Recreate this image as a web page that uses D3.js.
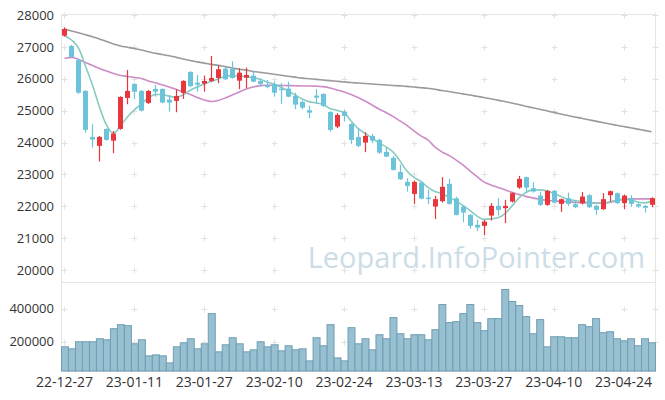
<!DOCTYPE html>
<html>
<head>
<meta charset="utf-8">
<script src="https://cdn.jsdelivr.net/npm/d3@7"></script>
<style>
  body { margin: 0; background: #fff; }
  svg { display: block; font-family: "Open Sans", "Noto Sans", sans-serif; }
</style>
</head>
<body>
<svg id="chart" width="665" height="400"></svg>
<script>
const dates = [
  "22-12-27","22-12-28","22-12-29","23-01-02","23-01-03","23-01-04","23-01-05","23-01-06","23-01-09","23-01-10",
  "23-01-11","23-01-12","23-01-13","23-01-16","23-01-17","23-01-18","23-01-19","23-01-20","23-01-25","23-01-26",
  "23-01-27","23-01-30","23-01-31","23-02-01","23-02-02","23-02-03","23-02-06","23-02-07","23-02-08","23-02-09",
  "23-02-10","23-02-13","23-02-14","23-02-15","23-02-16","23-02-17","23-02-20","23-02-21","23-02-22","23-02-23",
  "23-02-24","23-02-27","23-02-28","23-03-02","23-03-03","23-03-06","23-03-07","23-03-08","23-03-09","23-03-10",
  "23-03-13","23-03-14","23-03-15","23-03-16","23-03-17","23-03-20","23-03-21","23-03-22","23-03-23","23-03-24",
  "23-03-27","23-03-28","23-03-29","23-03-30","23-03-31","23-04-03","23-04-04","23-04-05","23-04-06","23-04-07",
  "23-04-10","23-04-11","23-04-12","23-04-13","23-04-14","23-04-17","23-04-18","23-04-19","23-04-20","23-04-21",
  "23-04-24","23-04-25","23-04-26","23-04-27","23-04-28"
]

const open = [
  27351,27028,26580,25617,24175,23893,24426,24059,24426,25398,
  25837,25617,25241,25680,25680,25345,25304,25555,26213,25878,
  25846,25931,26025,26317,26317,25940,26034,26097,25931,25800,
  25837,25690,25690,25461,25273,25012,25470,25523,24959,24498,
  24959,24583,24175,23997,24207,24081,23705,23517,23078,22764,
  22388,22743,22272,21990,22159,22701,22250,21990,21730,21417,
  21385,21708,22012,21940,22147,22586,22912,22567,22335,22044,
  22482,22075,22253,22065,22097,22347,22012,21909,22347,22410,
  22097,22253,22065,22012,22044
]
const close = [
  27561,26683,25564,24395,24091,24175,24081,24279,25429,25617,
  25595,24999,25617,25595,25251,25251,25461,25931,25765,25815,
  25931,26025,26298,25984,26025,26191,26119,25909,25837,25740,
  25564,25658,25439,25188,25094,24937,25407,25147,24395,24865,
  24834,24081,23893,24207,24059,23683,23558,23141,22849,22639,
  22764,22241,22241,22222,22608,22075,21730,21802,21385,21332,
  21520,22012,21887,22012,22410,22859,22586,22461,22044,22482,
  22116,22222,22075,21971,22304,21971,21887,22222,22472,22097,
  22335,22075,21990,21950,22253
]
const high = [
  27614,27060,26630,25649,24573,24207,24440,24363,25450,26276,
  25860,25650,25650,25806,25700,25492,25671,25953,26240,26119,
  26097,26715,26423,26350,26548,26330,26348,26254,26015,25960,
  25909,25859,25909,25564,25313,25157,25671,25540,24980,24918,
  25022,24605,24448,24323,24270,24122,23852,23580,23307,22881,
  22805,22790,22514,22326,22912,22859,22300,22022,21750,21573,
  21573,22097,22253,22200,22430,22953,22930,22755,22461,22513,
  22513,22241,22429,22200,22451,22380,22044,22410,22492,22430,
  22367,22347,22100,22044,22284
]
const low = [
  27320,26660,25523,24310,23840,23401,24060,23664,24400,25200,
  25357,24970,25210,25439,25230,24968,24950,25367,25740,25595,
  25595,25900,25859,25960,26003,25671,25702,25890,25752,25700,
  25439,25210,25420,25044,25044,24762,25232,25120,24341,24448,
  24655,23956,23853,23696,23978,23642,23539,23120,22827,22460,
  22075,22220,22075,21595,22116,22044,21710,21500,21300,21219,
  21094,21551,21708,21470,22116,22545,22410,22430,22012,22012,
  22090,21824,22012,21940,22053,21940,21730,21887,22147,22075,
  21909,21982,21950,21802,21971
]
const volume = [
  169700,157600,200000,200000,200000,218200,212100,278800,303000,297000,
  187900,212100,115200,121200,115200,72700,169700,194000,218200,157600,
  187900,369700,139400,181800,224300,187900,139400,151500,200000,169700,
  181800,145500,175800,151500,157600,84900,224300,175800,303000,103000,
  84900,284900,187900,218200,151500,242400,218200,345500,248500,218200,
  242400,242400,212100,272700,424300,315200,321200,369700,424300,315200,
  266700,339400,339400,515200,442500,418200,351500,248500,333400,169700,
  230300,230300,224300,224300,303000,290900,339400,254600,260600,218200,
  206100,218200,175800,218200,194000
]

// moving averages
const ma5 = [
  27357,27216,26965,26401,25805,25116,24551,24285,24520,24802,
  25022,25210,25398,25508,25508,25451,25420,25501,25639,25743,
  25837,25915,25994,26072,26097,26088,26063,26031,25984,25900,
  25821,25733,25617,25492,25367,25282,25241,25194,25069,25006,
  24943,24677,24442,24285,24144,23987,23862,23705,23423,23109,
  22906,22780,22592,22460,22404,22279,22169,22028,21871,21699,
  21589,21605,21636,21761,21996,22254,22429,22514,22514,22482,
  22404,22310,22222,22178,22147,22122,22106,22106,22138,22185,
  22222,22200,22138,22106,22153
]
const ma20 = [
  26643,26668,26605,26511,26417,26323,26244,26166,26103,26072,
  26041,26009,25931,25874,25805,25743,25664,25586,25508,25414,
  25335,25288,25320,25398,25492,25586,25680,25743,25784,25796,
  25796,25790,25784,25780,25774,25774,25768,25752,25711,25649,
  25586,25508,25414,25304,25178,25053,24943,24818,24677,24536,
  24363,24207,24081,23862,23705,23595,23454,23297,23109,22937,
  22765,22670,22592,22514,22435,22373,22310,22263,22216,22185,
  22169,22153,22138,22122,22106,22106,22097,22097,22122,22169,
  22216,22232,22232,22232,22232
]
const ma60 = [
  27561,27500,27440,27380,27320,27250,27170,27090,27030,26990,
  26950,26900,26850,26800,26760,26720,26670,26620,26570,26530,
  26490,26450,26420,26380,26340,26300,26270,26230,26200,26170,
  26140,26110,26080,26050,26020,26000,25980,25960,25940,25920,
  25900,25880,25865,25850,25835,25820,25805,25790,25775,25760,
  25740,25720,25700,25670,25630,25600,25560,25525,25490,25450,
  25410,25370,25330,25285,25240,25190,25140,25090,25045,24995,
  24945,24895,24845,24800,24760,24715,24670,24625,24580,24540,
  24500,24460,24420,24380,24340
]

const priceTicks = [20000, 21000, 22000, 23000, 24000, 25000, 26000, 27000, 28000]
const volTicks = [200000, 400000]
const dateTicks = dates.filter((d, i) => i % 10 == 0)

var svg = d3.select("#chart")
var left = 61, right = 655
var priceTop = 14, priceBottom = 282, volBottom = 371

var x = d3.scaleBand().domain(dates).range([left, right])
var cx = d => x(d) + x.bandwidth() / 2

var y = d3.scaleLinear().domain([20000, 28000]).range([270, 15])
var yv = d3.scaleLinear().domain([24000, 560000]).range([volBottom, priceBottom])

// frame lines
svg.append("g")
  .attr("stroke", "#e6e6e6")
  .attr("stroke-width", 1)
  .selectAll("line")
  .data([
    [left, priceTop, right, priceTop],
    [left, priceBottom, right, priceBottom],
    [left, volBottom, right, volBottom],
    [left, priceTop, left, volBottom],
    [right, priceTop, right, volBottom]
  ])
  .enter()
  .append("line")
  .attr("x1", d => d[0] + 0.5).attr("y1", d => d[1] + 0.5)
  .attr("x2", d => d[2] + 0.5).attr("y2", d => d[3] + 0.5)

// little "+" grid marks
var crossY = priceTicks.map(v => y(v)).concat(volTicks.map(v => yv(v)))
var crossX = dateTicks.map(cx).concat([right])
var crosses = []
crossX.forEach(a => crossY.forEach(b => crosses.push([a, b])))
var cross = svg.append("g").attr("stroke", "#e2e2e2").attr("stroke-width", 1)
cross.selectAll("path")
  .data(crosses)
  .enter()
  .append("path")
  .attr("d", d => {
    var px = Math.round(d[0]) + 0.5, py = Math.round(d[1]) + 0.5
    return "M" + (px - 3) + "," + py + "H" + (px + 3) + "M" + px + "," + (py - 3) + "V" + (py + 3)
  })

// watermark
svg.append("text")
  .attr("x", 645)
  .attr("y", 268)
  .attr("text-anchor", "end")
  .attr("fill", "#cbdde7")
  .style("font-size", "29px")
  .text("Leopard.InfoPointer.com")

// volume bars
svg.append("g")
  .selectAll("rect")
  .data(volume)
  .enter()
  .append("rect")
  .attr("x", (d, i) => x(dates[i]) + 0.5)
  .attr("y", d => yv(d))
  .attr("width", x.bandwidth())
  .attr("height", d => volBottom - yv(d))
  .attr("fill", "#98c0d0")
  .attr("stroke", "#6f9eb5")
  .attr("stroke-width", 1)

// moving average lines
var toLine = d3.line()
  .x((d, i) => cx(dates[i]))
  .y(d => y(d))
  .curve(d3.curveMonotoneX)

var maLines = [
  { values: ma60, color: "#9a9a9a" },
  { values: ma20, color: "#cc8cc6" },
  { values: ma5, color: "#88cbc0" }
]

svg.append("g")
  .selectAll("path")
  .data(maLines)
  .enter()
  .append("path")
  .attr("d", d => toLine(d.values))
  .attr("fill", "none")
  .attr("stroke", d => d.color)
  .attr("stroke-width", 1.6)

// candles
var candles = d3.range(dates.length).map(i => ({
  date: dates[i], o: open[i], h: high[i], l: low[i], c: close[i]
}))
var bodyW = 5
var cg = svg.append("g")
  .selectAll("g")
  .data(candles)
  .enter()
  .append("g")
  .attr("fill", d => d.c >= d.o ? "#e8363c" : "#6cc4da")
  .attr("stroke", d => d.c >= d.o ? "#e8363c" : "#6cc4da")

cg.append("line")
  .attr("x1", d => Math.round(cx(d.date)) + 0.5)
  .attr("x2", d => Math.round(cx(d.date)) + 0.5)
  .attr("y1", d => y(d.h))
  .attr("y2", d => y(d.l))
  .attr("stroke-width", 1.2)

cg.append("rect")
  .attr("x", d => Math.round(cx(d.date)) + 0.5 - bodyW / 2)
  .attr("y", d => y(Math.max(d.o, d.c)))
  .attr("width", bodyW)
  .attr("height", d => Math.max(1.5, Math.abs(y(d.o) - y(d.c))))
  .attr("stroke", "none")

// axes
svg.append("g")
  .attr("transform", "translate(" + left + ",0)")
  .call(d3.axisLeft(y).tickValues(priceTicks).tickFormat(d3.format("d")).tickSize(0).tickPadding(7))
svg.append("g")
  .attr("transform", "translate(" + left + ",0)")
  .call(d3.axisLeft(yv).tickValues(volTicks).tickFormat(d3.format("d")).tickSize(0).tickPadding(7))
var xAxis = svg.append("g")
  .attr("transform", "translate(0," + volBottom + ")")
  .call(d3.axisBottom(x).tickValues(dateTicks).tickSize(0).tickPadding(6))

svg.selectAll(".domain").remove()
svg.selectAll(".tick text")
  .attr("fill", "#333")
  .style("font-size", "13px")
  .style("font-family", "'Open Sans', 'Noto Sans', sans-serif")
xAxis.selectAll(".tick text").style("font-size", "14px")
</script>
</body>
</html>
